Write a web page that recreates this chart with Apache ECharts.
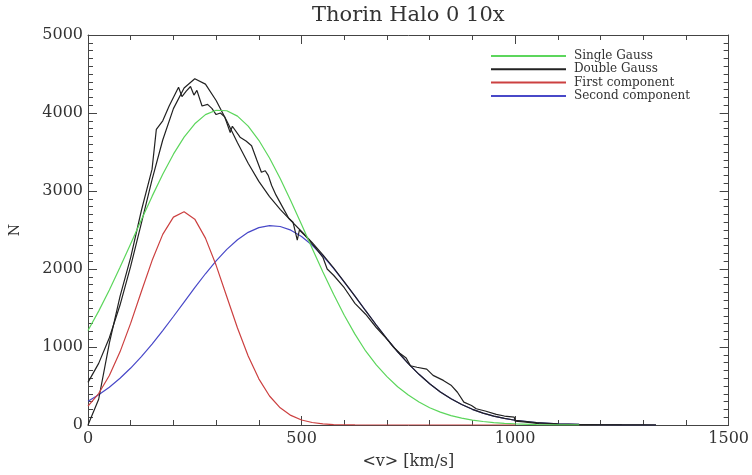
<!DOCTYPE html>
<html>
<head>
<meta charset="utf-8">
<script src="https://cdn.jsdelivr.net/npm/echarts@6/dist/echarts.min.js"></script>
<style>html,body{margin:0;padding:0;background:#fff}#c{width:752px;height:475px}</style>
</head>
<body>
<div id="c"></div>
<script>
// x positions of the fitted curves (km/s)
var xFit = [0,25,50,75,100,125,150,175,200,225,250,275,300,325,350,375,400,425,450,475,500,525,550,575,600,625,650,675,700,725,750,775,800,825,850,875,900,925,950,975,1000,1050,1100,1150,1200,1250,1300,1330];
var singleGauss = [1212,1460,1732,2022,2325,2631,2931,3215,3472,3690,3862,3979,4035,4029,3960,3831,3650,3423,3160,2872,2570,2264,1963,1676,1408,1165,949,770,620,490,385,295,222,165,120,88,63,45,31,21,14,6,2,0.5,null,null,null,null];
var doubleGauss = [546,790,1119,1538,2036,2588,3145,3654,4056,4320,4440,4370,4160,3897,3619,3355,3123,2928,2765,2621,2481,2337,2182,2013,1836,1652,1465,1282,1105,939,787,650,529,424,336,262,201,152,114,84,61,31,15,7,3,1,0,0];
var firstComp = [241,403,634,938,1306,1711,2108,2444,2665,2734,2639,2396,2047,1645,1244,885,592,372,220,123,64,32,15,6,3,1,0,0,0,0,0,0,0,0,0,0,0,0,0,0,0,null,null,null,null,null,null,null];
var secondComp = [305,387,485,600,730,877,1037,1210,1391,1576,1761,1939,2105,2252,2375,2470,2531,2556,2545,2498,2417,2305,2167,2007,1833,1651,1465,1282,1105,939,787,650,529,424,336,262,201,152,114,84,61,31,15,7,3,1,0,0];
// histogram (measured distribution)
var histX = [0,25,50,75,100,125,150,160,175,190,212,220,230,240,248,255,267,280,290,300,310,320,333,338,356,370,383,395,406,415,422,430,440,455,470,480,490,495,510,530,550,560,575,600,625,650,675,700,715,730,745,755,770,793,808,832,851,865,880,898,909,930,956,975,998,1000,1020,1056,1080,1100,1150,1200,1250,1300,1330];
var histY = [0,330,1050,1650,2150,2750,3280,3790,3900,4090,4330,4210,4280,4340,4230,4290,4090,4110,4060,3980,4000,3950,3750,3830,3690,3640,3580,3400,3240,3260,3200,3070,2950,2800,2650,2600,2370,2500,2420,2290,2150,2000,1920,1760,1560,1420,1250,1100,1000,920,860,760,740,716,636,572,505,420,293,250,208,180,136,115,102,50,40,17,15,8,5,3,2,1,0];
var legendNames = ['Single Gauss','Double Gauss','First component','Second component'];
var xTicks = {min:0, max:1500, interval:500};
var yTicks = {min:0, max:5000, interval:1000};

function pairs(xs, ys){ var out=[]; for (var i=0;i<xs.length;i++){ out.push([xs[i], ys[i]]); } return out; }

var FONT = 'DejaVu Serif';
var axisCol = '#444';
var plain = function(v){ return String(v); };
function mkAxis(extra){
  var base = {
    type:'value',
    axisLine:{show:true, onZero:false, lineStyle:{color:axisCol, width:1}},
    axisTick:{show:true, inside:true, length:9, lineStyle:{color:axisCol}},
    minorTick:{show:true, length:5, lineStyle:{color:axisCol}},
    splitLine:{show:false},
    axisLabel:{fontFamily:FONT, fontSize:16, color:'#333', formatter:plain}
  };
  for (var k in extra) base[k]=extra[k];
  return base;
}

var chart = echarts.init(document.getElementById('c'), null, {renderer:'canvas'});
var lw = 1.2;
chart.setOption({
  animation:false,
  backgroundColor:'#fff',
  title:{text:'Thorin Halo 0 10x', left:307, top:0, textStyle:{fontFamily:FONT, fontSize:21, fontWeight:'normal', color:'#333'}},
  grid:{left:85, right:21, top:35, bottom:47, containLabel:false},
  legend:{data:legendNames, orient:'vertical', left:490, top:50, padding:0, itemWidth:75, itemHeight:13, itemGap:1.3,
          itemStyle:{opacity:0, borderWidth:0},
          textStyle:{fontFamily:FONT, fontSize:12, color:'#333', padding:[0,0,0,3]}},
  xAxis:[
    mkAxis({min:xTicks.min, max:xTicks.max, interval:xTicks.interval, position:'bottom',
      minorTick:{show:true, splitNumber:5, length:5, lineStyle:{color:axisCol}},
      axisLabel:{fontFamily:FONT, fontSize:16, color:'#333', margin:6, formatter:plain},
      name:'<v> [km/s]', nameLocation:'middle', nameGap:29, nameTextStyle:{fontFamily:FONT, fontSize:16, color:'#333'}}),
    mkAxis({min:xTicks.min, max:xTicks.max, interval:xTicks.interval, position:'top',
      minorTick:{show:true, splitNumber:5, length:5, lineStyle:{color:axisCol}},
      axisLabel:{show:false}})
  ],
  yAxis:[
    mkAxis({min:yTicks.min, max:yTicks.max, interval:yTicks.interval, position:'left',
      minorTick:{show:true, splitNumber:10, length:5, lineStyle:{color:axisCol}},
      axisLabel:{fontFamily:FONT, fontSize:16, color:'#333', margin:5, formatter:plain},
      name:'N', nameLocation:'middle', nameGap:66, nameRotate:90, nameTextStyle:{fontFamily:FONT, fontSize:14, color:'#333'}}),
    mkAxis({min:yTicks.min, max:yTicks.max, interval:yTicks.interval, position:'right',
      minorTick:{show:true, splitNumber:10, length:5, lineStyle:{color:axisCol}},
      axisLabel:{show:false}})
  ],
  series:[
    {name:'Second component', type:'line', data:pairs(xFit, secondComp), symbol:'none', showSymbol:false, z:2,
     lineStyle:{color:'#4848c8', width:lw}, itemStyle:{color:'#4848c8'}},
    {name:'Histogram', type:'line', data:pairs(histX, histY), symbol:'none', showSymbol:false, z:3,
     lineStyle:{color:'#222', width:lw}, itemStyle:{color:'#222'}},
    {name:'Double Gauss', type:'line', data:pairs(xFit, doubleGauss), symbol:'none', showSymbol:false, z:4,
     lineStyle:{color:'#222', width:lw}, itemStyle:{color:'#222'}},
    {name:'Single Gauss', type:'line', data:pairs(xFit, singleGauss), symbol:'none', showSymbol:false, z:5,
     lineStyle:{color:'#5cd65c', width:lw}, itemStyle:{color:'#5cd65c'}},
    {name:'First component', type:'line', data:pairs(xFit, firstComp), symbol:'none', showSymbol:false, z:6,
     lineStyle:{color:'#cc4040', width:lw}, itemStyle:{color:'#cc4040'}}
  ]
});
</script>
</body>
</html>
